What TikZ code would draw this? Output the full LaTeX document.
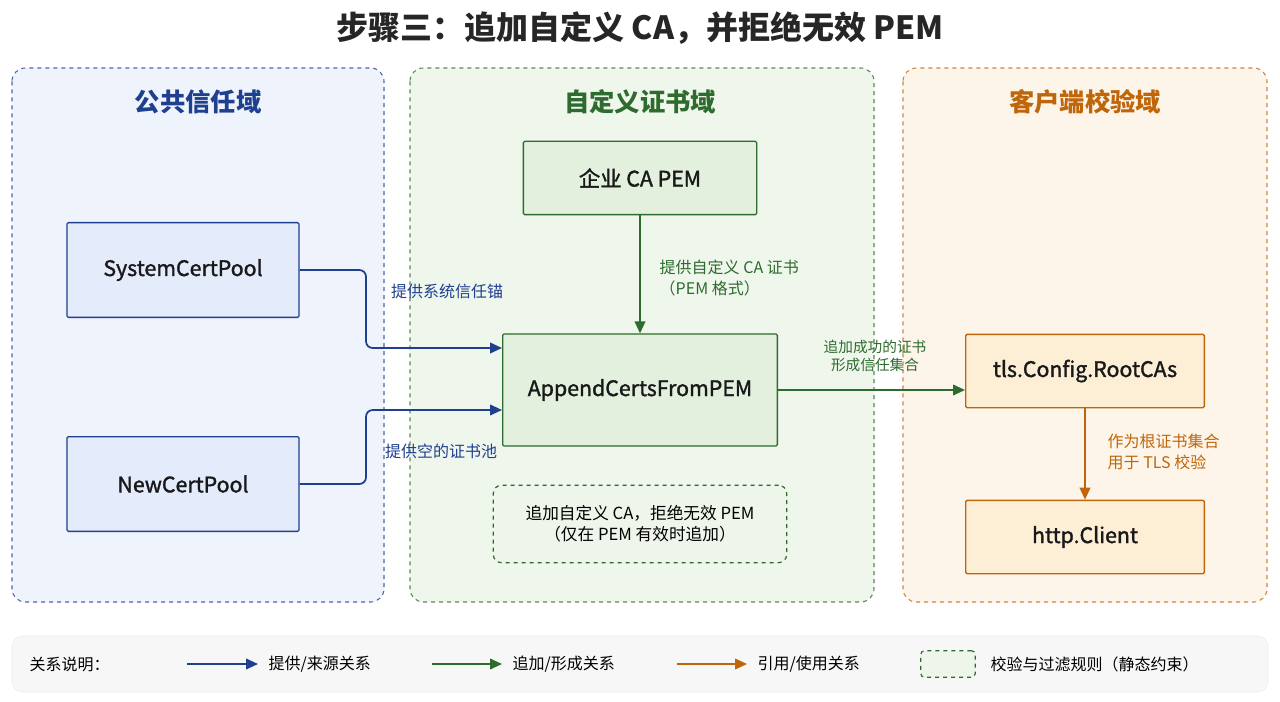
\documentclass[tikz,border=0pt]{standalone}
\usepackage{fontspec}
\setmainfont{Noto Sans CJK SC}
\newfontfamily\medf{Noto Sans CJK SC}[FakeBold=1.5]
\usetikzlibrary{arrows.meta}
\definecolor{bl}{HTML}{1F3F8F}
\definecolor{gr}{HTML}{2E6B2E}
\definecolor{og}{HTML}{C0660A}
\definecolor{blf}{HTML}{EEF3FC}
\definecolor{grf}{HTML}{EFF6EC}
\definecolor{ogf}{HTML}{FDF5EA}
\definecolor{blb}{HTML}{E4ECFB}
\definecolor{grb}{HTML}{E3F0DE}
\definecolor{ogb}{HTML}{FDEFD6}
\tikzset{
 panel/.style={draw, dashed, rounded corners=10pt, line width=0.8pt},
 box/.style={draw, line width=1pt, rounded corners=1pt, font=\medf\fontsize{16}{18}\selectfont, text=black!90},
 lab/.style={font=\fontsize{11}{14}\selectfont, align=center},
 arr/.style={-{Triangle[length=9pt,width=8pt]}, line width=1.3pt, rounded corners=5pt},
 ptitle/.style={font=\fontsize{19}{22}\selectfont\bfseries}
}
\begin{document}
\begin{tikzpicture}[x=0.75pt,y=-0.75pt]
\useasboundingbox (0,0) rectangle (1280,702);
\fill[white] (0,0) rectangle (1280,702);
\node[font=\fontsize{24}{28}\selectfont\bfseries, text=black!85] (title) at (640,28) {步骤三：追加自定义 CA，并拒绝无效 PEM};
\draw[panel, bl!80, fill=blf] (12,68) rectangle (384,602);
\draw[panel, gr!80, fill=grf] (410,68) rectangle (874,602);
\draw[panel, og!80, fill=ogf] (903,68) rectangle (1267,602);
\node[ptitle, text=bl] (t1) at (198,102) {公共信任域};
\node[ptitle, text=gr] (t2) at (640,102) {自定义证书域};
\node[ptitle, text=og] (t3) at (1085,102) {客户端校验域};
\node[box, draw=bl, fill=blb, minimum width=174pt, minimum height=71pt] (scp) at (183,270) {SystemCertPool};
\node[box, draw=bl, fill=blb, minimum width=174pt, minimum height=71pt] (ncp) at (183,484) {NewCertPool};
\node[box, draw=gr, fill=grb, minimum width=175pt, minimum height=55pt] (ca) at (640,178) {企业 CA PEM};
\node[box, draw=gr, fill=grb, minimum width=206pt, minimum height=84pt] (app) at (640,390) {AppendCertsFromPEM};
\node[draw=gr, dashed, line width=0.9pt, rounded corners=6pt, minimum width=220pt, minimum height=58pt, lab, font=\fontsize{12.5}{16}\selectfont, fill=grb!60] (rule) at (640,524) {追加自定义 CA，拒绝无效 PEM\\（仅在 PEM 有效时追加）};
\node[box, draw=og, fill=ogb, minimum width=179pt, minimum height=55pt] (tls) at (1085,371) {tls.Config.RootCAs};
\node[box, draw=og, fill=ogb, minimum width=179pt, minimum height=55pt] (http) at (1085,537) {http.Client};
\draw[arr, bl] (scp.east) -- (366,270) -- (366,348) -- (app.west |- 0,348);
\draw[arr, bl] (ncp.east) -- (366,484) -- (366,410) -- (app.west |- 0,410);
\node[lab, text=bl, font=\fontsize{12}{14}\selectfont] (l1) at (447,291) {提供系统信任锚};
\node[lab, text=bl, font=\fontsize{12}{14}\selectfont] (l2) at (441,451) {提供空的证书池};
\draw[arr, gr] (ca.south) -- (app.north);
\node[lab, text=gr, font=\fontsize{12}{16}\selectfont, align=left, anchor=west] (l3) at (655,278) {提供自定义 CA 证书\\（PEM 格式）};
\draw[arr, gr] (app.east |- 0,390) -- (tls.west |- 0,390);
\node[lab, text=gr] (l4) at (875,356) {追加成功的证书\\形成信任集合};
\draw[arr, og] (tls.south) -- (http.north);
\node[lab, text=og, font=\fontsize{12}{16}\selectfont, align=left, anchor=west] (l5) at (1103,452) {作为根证书集合\\用于 TLS 校验};
\draw[draw=black!8, fill=black!3, rounded corners=8pt] (12,636) rectangle (1268,692);
\node[lab, anchor=west, font=\fontsize{12}{14}\selectfont] (lg) at (25,664) {关系说明：};
\coordinate (b1) at (187,664); \coordinate (b2) at (258,664);
\draw[arr, bl] (b1) -- (b2);
\node[lab, anchor=west, font=\fontsize{12}{14}\selectfont] (lb) at (264,664) {提供/来源关系};
\coordinate (g1) at (432,664); \coordinate (g2) at (502,664);
\draw[arr, gr] (g1) -- (g2);
\node[lab, anchor=west, font=\fontsize{12}{14}\selectfont] (lgr) at (508,664) {追加/形成关系};
\coordinate (o1) at (677,664); \coordinate (o2) at (747,664);
\draw[arr, og] (o1) -- (o2);
\node[lab, anchor=west, font=\fontsize{12}{14}\selectfont] (lo) at (753,664) {引用/使用关系};
\node[draw=gr, dashed, line width=0.9pt, fill=grb!60, rounded corners=3pt, minimum width=41pt, minimum height=20pt] (lr) at (948,664) {};
\node[lab, anchor=west, font=\fontsize{12}{14}\selectfont] (lrt) at (986,664) {校验与过滤规则（静态约束）};
\end{tikzpicture}
\end{document}
